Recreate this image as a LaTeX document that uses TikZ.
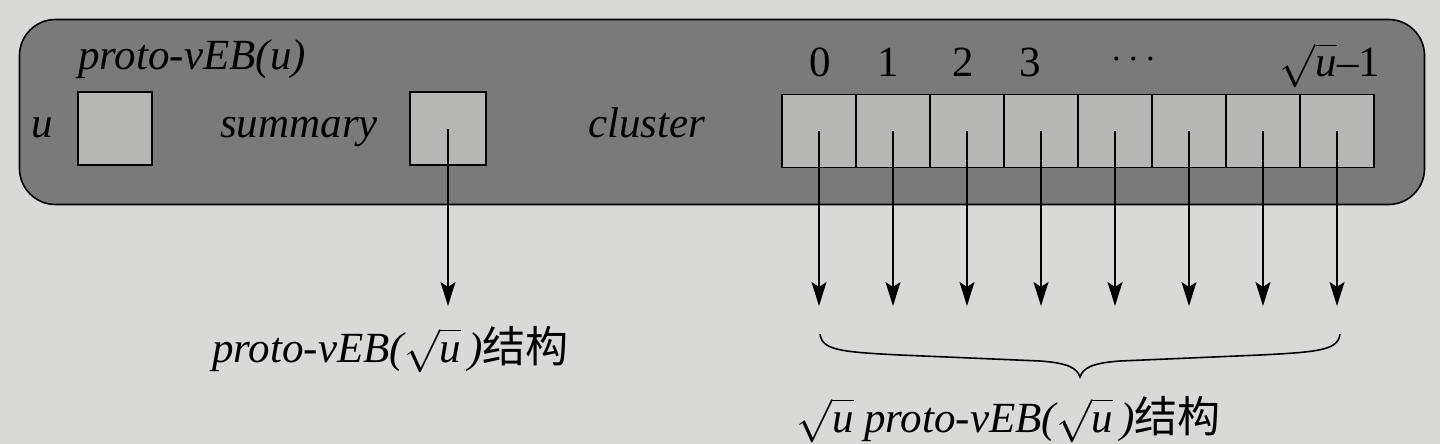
\RequirePackage{fix-cm}
\documentclass[tikz,border=0pt]{standalone}
\usepackage{fontspec}
\setmainfont{Liberation Serif}
\newfontfamily\cjk{Noto Sans CJK SC}
\usetikzlibrary{arrows.meta}
\definecolor{paper}{HTML}{D9D9D7}
\definecolor{outerfill}{HTML}{7A7A7A}
\definecolor{cellfill}{HTML}{B6B6B4}
\newcommand{\sqrtu}{$\sqrt{\mbox{\itshape u}}$}
\tikzset{
  txt/.style={inner sep=0pt, font=\fontsize{43}{50}\selectfont},
  itxt/.style={txt, font=\fontsize{43}{50}\selectfont\itshape},
  dotstxt/.style={inner sep=0pt, font=\fontsize{38}{44}\selectfont},
  cellbox/.style={draw=black, line width=1.6pt, fill=cellfill, minimum width=74pt, minimum height=73pt, inner sep=0pt},
  ptr/.style={line width=1.6pt, -{Stealth[length=24pt,width=15pt,inset=5pt]}},
}
\begin{document}
\begin{tikzpicture}[x=1pt,y=-1pt]
\fill[paper] (0,0) rectangle (1440,444);
\useasboundingbox (0,0) rectangle (1440,444);
% outer frame
\node (frame) [draw=black, line width=1.6pt, fill=outerfill, rounded corners=36pt,
  minimum width=1405pt, minimum height=185pt, inner sep=0pt] at (722,112) {};
% title
\node (title) [itxt, anchor=base west] at (78,70) {proto-\textit{v}EB(u)};
% u field
\node (ulab) [itxt, anchor=base] at (42,137) {u};
\node (ubox) [cellbox] at (115,128.5) {};
% summary
\node (slab) [itxt, anchor=base west] at (220,137) {summary};
\node (sbox) [cellbox, minimum width=76pt] at (448,128.5) {};
% cluster
\node (clab) [itxt, anchor=base west] at (588,137) {cluster};
\foreach \i in {0,...,7}{
  \node (c\i) [cellbox] at ({819+74*\i},131) {};
}
% indices
\node (i0) [txt, anchor=base] at (820,77) {0};
\node (i1) [txt, anchor=base] at (888,77) {1};
\node (i2) [txt, anchor=base] at (963,77) {2};
\node (i3) [txt, anchor=base] at (1030,77) {3};
\node (idots) [dotstxt, anchor=base] at (1134,68) {$\cdots$};
\node (ilast) [txt, anchor=base] at (1330,77) {\sqrtu--1};
% arrows
\coordinate (st) at (448,306);
\draw[ptr] (sbox.center) -- (st);
\foreach \i in {0,...,7}{
  \coordinate (t\i) at ({819+74*\i},306);
  \draw[ptr] (c\i.center) -- (t\i);
}
% brace
\coordinate (bl) at (820,334);
\coordinate (bm) at (1080,377);
\coordinate (br) at (1340,334);
\draw[line width=1.6pt] (bl) .. controls (822,350) and (840,352) .. (900,355)
  -- (1040,361) .. controls (1068,363) and (1077,368) .. (bm)
  .. controls (1083,368) and (1092,363) .. (1120,361)
  -- (1260,355) .. controls (1320,352) and (1338,350) .. (br);
% bottom labels
\node (lab1) [itxt, anchor=base west] at (212,362) {proto-\textit{v}EB(\sqrtu\,){\upshape\cjk 结构}};
\node (lab2) [itxt, anchor=base west] at (796,432) {\sqrtu\ proto-\textit{v}EB(\sqrtu\,){\upshape\cjk 结构}};
\end{tikzpicture}
\end{document}
